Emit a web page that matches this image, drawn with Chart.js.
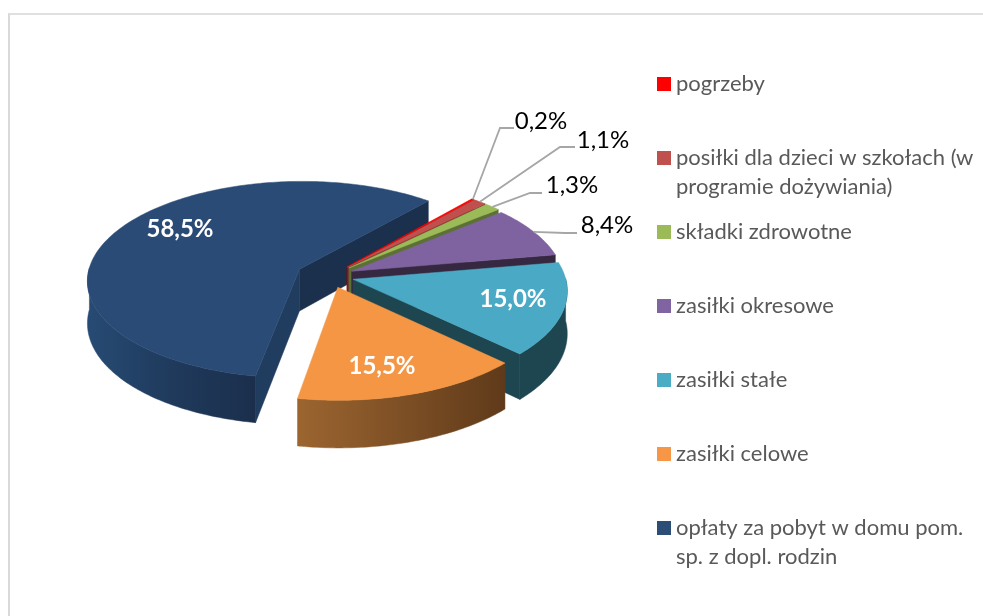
<!DOCTYPE html>
<html><head><meta charset="utf-8">
<style>
html,body{margin:0;padding:0;background:#fff;overflow:hidden}
#wrap{position:relative;width:983px;height:616px}
#frame{position:absolute;left:8px;top:13px;width:975px;height:603px;border-left:2px solid #d9d9d9;border-top:2px solid #e0e0e0;box-sizing:border-box}
canvas{position:absolute;left:0;top:0}
</style>
<script src="https://cdn.jsdelivr.net/npm/chart.js@4"></script>
</head><body>
<div id="wrap"><div id="frame"></div><canvas id="c" width="983" height="616"></canvas></div>
<script>
const categories = ['pogrzeby','posiłki dla dzieci w szkołach (w programie dożywiania)','składki zdrowotne','zasiłki okresowe','zasiłki stałe','zasiłki celowe','opłaty za pobyt w domu pom. sp. z dopl. rodzin'];
const values = [0.2,1.1,1.3,8.4,15.0,15.5,58.5];
const explode = [26,26,26,24,24,25,34];
const topColors = ['#ff0000','#c0504d','#9bbb59','#7f62a0','#4aa9c4','#f59645','#2a4b76'];
const legendColors = ['#ff0000','#c0504d','#9bbb59','#8064a2','#4bacc6','#f79646','#2c4d75'];
const faceColors = ['#8f0000','#6f2e2c','#5c7035','#352840','#1e4650','#6a3f1c','#1a304c'];
const startFaceColors = ['#8f0000','#6f2e2c','#5c7035','#352840','#1e4650','#6a3f1c','#203c5e'];
const wallStops = [['#8f0000','#8f0000'],['#6f2e2c','#6f2e2c'],['#5c7035','#5c7035'],['#352840','#352840'],['#1e4650','#1e4650'],['#9c6530','#5f3a1a'],['#274b74','#1f3a5c','#1b2f4c']];
const legendLines = [['pogrzeby'],['posiłki dla dzieci w szkołach (w','programie dożywiania)'],['składki zdrowotne'],['zasiłki okresowe'],['zasiłki stałe'],['zasiłki celowe'],['opłaty za pobyt w domu pom.','sp. z dopl. rodzin']];
const legendSquareY = [77,151,225,299,373,447,521];
const legendTextY = [[84],[158,187],[232],[306],[380],[454],[528,557]];
const labelPos = [[541,121],[603,140],[572,185],[607,225],[513,299],[382,366],[180,229]];
const labelWhite = [false,false,false,false,true,true,true];
const leaderBends = [[[500,128],[514,128]],[[560,147],[575,147]],[[530,193],[542,193]],[[565,233],[577,233]],null,null,null];
const CX=330, CY=276, RADIUS=212, K=0.465, PERSP=0.0005, DEPTH=42;
const FONT='Lato, Carlito, Calibri, sans-serif';

function project(u,v,z){const s=1/(1-v*PERSP);return [CX+u*s,CY+(v*K+z)*s];}
function sliceGeom(a){
  const mid=(a.startAngle+a.endAngle)/2, off=a.options.offset||0;
  return {ox:(a.x-CX)+Math.cos(mid)*off, oy:(a.y-CY)+Math.sin(mid)*off, r:a.outerRadius, s:a.startAngle, e:a.endAngle, mid};
}
function poly(ctx,pts,fill){ctx.beginPath();pts.forEach((p,i)=>i?ctx.lineTo(p[0],p[1]):ctx.moveTo(p[0],p[1]));ctx.closePath();ctx.fillStyle=fill;ctx.fill();ctx.strokeStyle=fill;ctx.lineWidth=0.5;ctx.stroke();}
const pie3d={id:'pie3d',
  beforeDatasetDraw(chart,args){
    const ctx=chart.ctx, arcs=args.meta.data;
    const order=[6,0,1,2,3,4,5];
    order.forEach(i=>{
      const g=sliceGeom(arcs[i]);
      const at=(t,z)=>project(g.ox+g.r*Math.cos(t),g.oy+g.r*Math.sin(t),z);
      const apex=z=>project(g.ox,g.oy,z);
      if(Math.cos(g.e)>0) poly(ctx,[apex(0),at(g.e,0),at(g.e,DEPTH),apex(DEPTH)],faceColors[i]);
      if(Math.cos(g.s)<0) poly(ctx,[apex(0),at(g.s,0),at(g.s,DEPTH),apex(DEPTH)],startFaceColors[i]);
      const n=Math.max(8,Math.ceil((g.e-g.s)*60));
      const front=[];
      for(let j=0;j<=n;j++){const t=g.s+(g.e-g.s)*j/n; if(Math.sin(t)>-0.02) front.push(t);}
      if(front.length>1){
        const top=front.map(t=>at(t,0)), bot=front.map(t=>at(t,DEPTH)).reverse();
        const xs=top.map(p=>p[0]), x0=Math.min(...xs), x1=Math.max(...xs);
        const gr=ctx.createLinearGradient(x0,0,x1,0), st=wallStops[i];
        st.forEach((c,k)=>gr.addColorStop(k/(st.length-1),c));
        poly(ctx,top.concat(bot),gr);
      }
      const pts=[apex(0)];
      for(let j=0;j<=n;j++) pts.push(at(g.s+(g.e-g.s)*j/n,0));
      poly(ctx,pts,topColors[i]);
    });
    return false;
  },
  afterDraw(chart){
    const ctx=chart.ctx, arcs=chart.getDatasetMeta(0).data;
    ctx.save();
    values.forEach((v,i)=>{
      const bends=leaderBends[i];
      if(bends){
        const g=sliceGeom(arcs[i]);
        const p=project(g.ox+g.r*Math.cos(g.mid),g.oy+g.r*Math.sin(g.mid),0);
        ctx.beginPath();ctx.moveTo(p[0],p[1]);bends.forEach(b=>ctx.lineTo(b[0],b[1]));
        ctx.strokeStyle='#a6a6a6';ctx.lineWidth=1.8;ctx.stroke();
      }
    });
    ctx.textAlign='center';ctx.textBaseline='middle';
    values.forEach((v,i)=>{
      ctx.font=(labelWhite[i]?'bold ':'')+'24px '+FONT;
      ctx.fillStyle=labelWhite[i]?'#ffffff':'#000000';
      ctx.fillText(v.toFixed(1).replace('.',',')+'%',labelPos[i][0],labelPos[i][1]);
    });
    ctx.textAlign='left';
    ctx.font='22px '+FONT;
    legendLines.forEach((lines,i)=>{
      ctx.fillStyle=legendColors[i];ctx.fillRect(657,legendSquareY[i],14,14);
      ctx.fillStyle='#595959';
      lines.forEach((t,j)=>ctx.fillText(t,676,legendTextY[i][j]));
    });
    ctx.restore();
  }
};
new Chart(document.getElementById('c'),{
  type:'pie',
  data:{labels:categories,datasets:[{data:values,backgroundColor:topColors,offset:explode,borderWidth:0}]},
  options:{responsive:false,animation:false,rotation:40.5,radius:RADIUS,
    layout:{padding:{left:0,top:0,right:983-2*CX,bottom:616-2*CY}},
    plugins:{legend:{display:false},tooltip:{enabled:false}}},
  plugins:[pie3d]
});
</script>
</body></html>
